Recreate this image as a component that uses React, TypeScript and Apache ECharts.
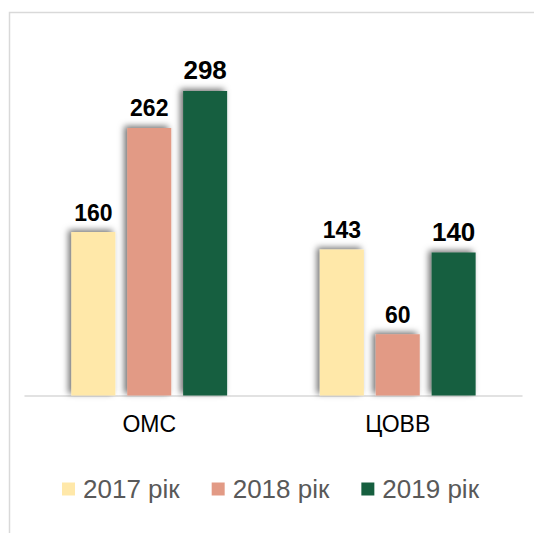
import React, { useEffect, useRef } from "react";
import * as echarts from "echarts";

const categories = ["ОМС", "ЦОВВ"];
const seriesNames = ["2017 рік", "2018 рік", "2019 рік"];
const values2017 = [160, 143];
const values2018 = [262, 60];
const values2019 = [298, 140];
const colors = ["#FFE8A9", "#E29A85", "#165F3F"];
const labelSizes = [23, 23, 26];

export default function App() {
  const ref = useRef<HTMLDivElement>(null);
  useEffect(() => {
    document.body.style.margin = "0";
    const chart = echarts.init(ref.current!, null, { renderer: "svg" });
    const data = [values2017, values2018, values2019];
    chart.setOption({
      animation: false,
      backgroundColor: "#ffffff",
      grid: { left: 25, right: 12, top: 38, bottom: 137.5, containLabel: false },
      graphic: [
        {
          type: "rect",
          shape: { x: 9.5, y: 12.5, width: 700, height: 700 },
          style: { fill: "none", stroke: "#d9d9d9", lineWidth: 1.5 },
          silent: true,
        },
      ],
      legend: {
        data: seriesNames,
        left: 57,
        top: 471,
        itemWidth: 13,
        itemHeight: 13,
        itemGap: 32,
        icon: "rect",
        textStyle: {
          fontFamily: "Liberation Sans, Arial, sans-serif",
          fontSize: 26,
          color: "#595959",
          width: 100,
          padding: [0, 0, 0, 3],
        },
      },
      xAxis: {
        type: "category",
        data: categories,
        axisLine: { show: true, lineStyle: { color: "#d9d9d9", width: 1.5 } },
        axisTick: { show: false },
        axisLabel: {
          margin: 17,
          fontFamily: "Liberation Sans, Arial, sans-serif",
          fontSize: 23,
          color: "#000000",
        },
      },
      yAxis: {
        type: "value",
        min: 0,
        max: 350,
        show: false,
        splitLine: { show: false },
      },
      series: seriesNames.map((name, i) => ({
        name,
        type: "bar",
        data: data[i],
        barWidth: 44,
        barGap: "27%",
        itemStyle: {
          color: colors[i],
          shadowColor: "rgba(0,0,0,0.55)",
          shadowBlur: 6,
          shadowOffsetX: -3,
          shadowOffsetY: -2,
        },
        label: {
          show: true,
          position: "top",
          distance: 8,
          fontFamily: "Liberation Sans, Arial, sans-serif",
          fontWeight: "bold",
          fontSize: labelSizes[i],
          color: "#000000",
        },
      })),
    });
    return () => chart.dispose();
  }, []);
  return <div ref={ref} style={{ width: 534, height: 533 }} />;
}
